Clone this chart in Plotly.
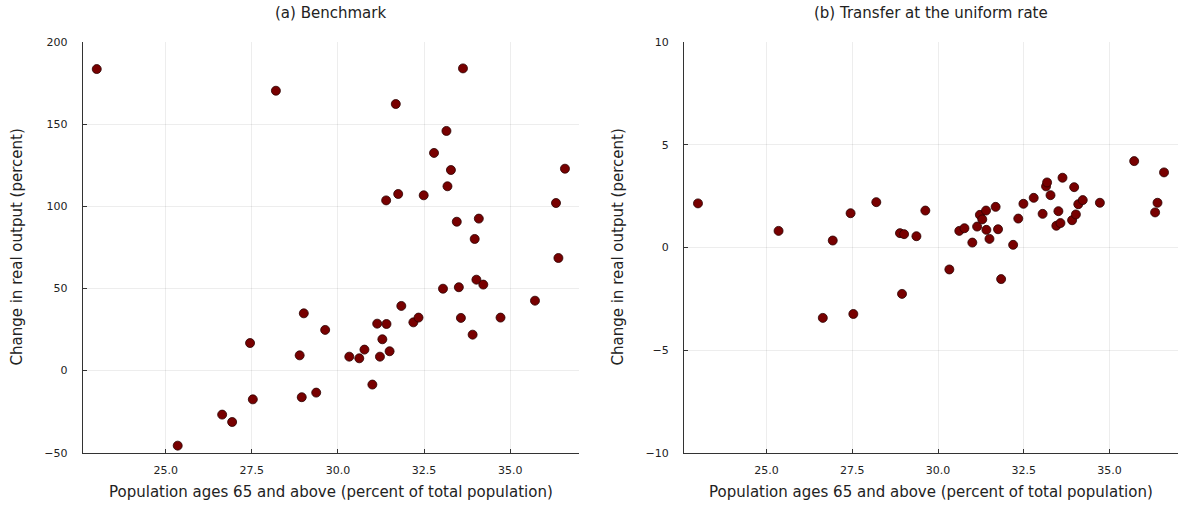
import plotly.graph_objects as go

# Population ages 65+ (percent of total population), shared by both panels
pop65 = [23.00, 25.35, 26.64, 26.93, 27.45, 27.53, 28.20, 28.89, 28.95, 29.01,
         29.37, 29.63, 30.33, 30.62, 30.77, 31.00, 31.14, 31.22, 31.29, 31.40,
         31.41, 31.50, 31.68, 31.75, 31.84, 32.19, 32.34, 32.49, 32.79, 33.05,
         33.15, 33.18, 33.28, 33.45, 33.51, 33.57, 33.63, 33.91, 33.97, 34.02,
         34.09, 34.22, 34.72, 35.72, 36.33, 36.40, 36.59]

# (a) Benchmark: change in real output (percent)
benchmark = [183.7, -45.7, -26.8, -31.3, 16.8, -17.5, 170.5, 9.3, -16.2, 34.9,
             -13.4, 24.8, 8.5, 7.5, 12.8, -8.5, 28.6, 8.5, 19.1, 103.7,
             28.4, 11.8, 162.4, 107.6, 39.4, 29.4, 32.3, 106.8, 132.6, 49.9,
             146.0, 112.3, 122.2, 90.7, 50.8, 32.1, 184.1, 21.9, 80.2, 55.4,
             92.6, 52.4, 32.3, 42.6, 102.1, 68.6, 123.0]

# (b) Transfer at the uniform rate: change in real output (percent)
uniform = [2.15, 0.81, -3.43, 0.34, 1.67, -3.24, 2.21, 0.70, -2.26, 0.65,
           0.55, 1.80, -1.07, 0.81, 0.94, 0.24, 1.02, 1.59, 1.37, 1.80,
           0.86, 0.42, 1.98, 0.89, -1.54, 0.13, 1.41, 2.13, 2.42, 1.64,
           2.98, 3.17, 2.55, 1.06, 1.77, 1.19, 3.40, 1.33, 2.94, 1.61,
           2.11, 2.31, 2.18, 4.21, 1.71, 2.18, 3.66]

titles = ["(a) Benchmark", "(b) Transfer at the uniform rate"]
x_title = "Population ages 65 and above (percent of total population)"
y_title = "Change in real output (percent)"
x_ticks = [25.0, 27.5, 30.0, 32.5, 35.0]
x_tick_text = ["25.0", "27.5", "30.0", "32.5", "35.0"]
y_ticks_a = [-50, 0, 50, 100, 150, 200]
y_ticks_b = [-10, -5, 0, 5, 10]

FONT = "DejaVu Sans"
TXT = "#222222"

W, H = 1179, 506
L1, R1 = 82.7, 579.0
L2, R2 = 684.0, 1178.0
TOP, BOT = 42.3, 452.7


def minus(v):
    return ("\u2212" + str(-v)) if v < 0 else str(v)


fig = go.Figure()
marker = dict(size=9, color="#780000", line=dict(color="#2a0000", width=0.8))
fig.add_trace(go.Scatter(x=pop65, y=benchmark, mode="markers", marker=marker,
                         xaxis="x", yaxis="y", showlegend=False, cliponaxis=False))
fig.add_trace(go.Scatter(x=pop65, y=uniform, mode="markers", marker=marker,
                         xaxis="x2", yaxis="y2", showlegend=False, cliponaxis=False))

xmin = min(pop65)
xmax = max(pop65)
pad = 0.03 * (xmax - xmin)
xr = [xmin - pad, xmax + pad]

common_axis = dict(
    showline=True, linecolor="#333333", linewidth=1,
    ticks="inside", ticklen=4, tickcolor="#333333", tickwidth=1,
    showgrid=True, gridcolor="rgba(0,0,0,0.07)", gridwidth=0.6,
    zeroline=False, mirror=False, automargin=False,
    tickfont=dict(family=FONT, size=11, color=TXT),
)

fig.update_layout(
    width=W, height=H,
    margin=dict(l=0, r=0, t=0, b=0, autoexpand=False),
    paper_bgcolor="white", plot_bgcolor="white",
    font=dict(family=FONT, color=TXT),
    xaxis=dict(domain=[L1 / W, R1 / W], range=xr, tickvals=x_ticks,
               ticktext=x_tick_text, anchor="y", ticklabelstandoff=7, **common_axis),
    yaxis=dict(domain=[1 - BOT / H, 1 - TOP / H], range=[-50, 200],
               tickvals=y_ticks_a, ticktext=[minus(v) for v in y_ticks_a],
               anchor="x", ticklabelstandoff=12, **common_axis),
    xaxis2=dict(domain=[L2 / W, R2 / W], range=xr, tickvals=x_ticks,
                ticktext=x_tick_text, anchor="y2", ticklabelstandoff=7, **common_axis),
    yaxis2=dict(domain=[1 - BOT / H, 1 - TOP / H], range=[-10, 10],
                tickvals=y_ticks_b, ticktext=[minus(v) for v in y_ticks_b],
                anchor="x2", ticklabelstandoff=12, **common_axis),
)

ann = []
for (l, r), t, ytx in [((L1, R1), titles[0], 17), ((L2, R2), titles[1], 618)]:
    cx = (l + r) / 2 / W
    ann.append(dict(text=t, x=cx, y=1 - 13 / H, xref="paper", yref="paper",
                    showarrow=False, xanchor="center", yanchor="middle",
                    font=dict(family=FONT, size=15, color=TXT)))
    ann.append(dict(text=x_title, x=cx, y=1 - 492 / H, xref="paper", yref="paper",
                    showarrow=False, xanchor="center", yanchor="middle",
                    font=dict(family=FONT, size=15, color=TXT)))
    ann.append(dict(text=y_title, x=ytx / W, y=1 - ((TOP + BOT) / 2) / H,
                    xref="paper", yref="paper", textangle=-90,
                    showarrow=False, xanchor="center", yanchor="middle",
                    font=dict(family=FONT, size=15, color=TXT)))
fig.update_layout(annotations=ann)

fig.write_html(
    "out.html",
    config={"displayModeBar": False},
    post_script="document.body.style.margin='0';document.body.style.padding='0';"
                "document.documentElement.style.overflow='hidden';",
)
